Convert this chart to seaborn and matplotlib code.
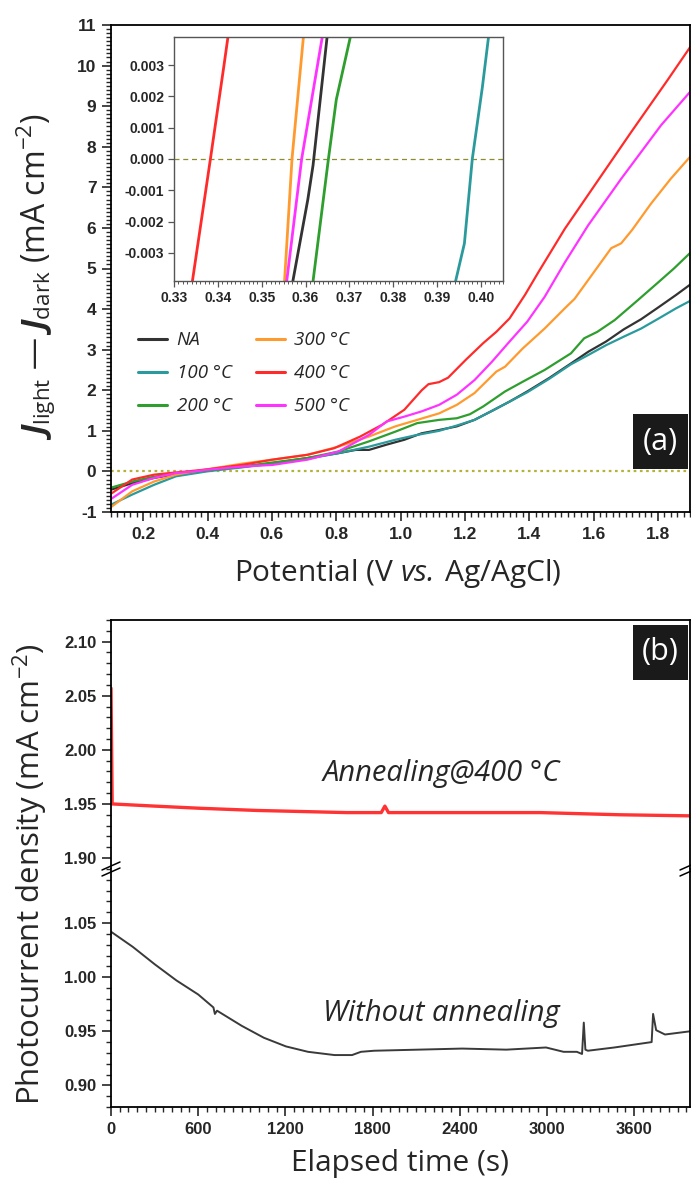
import numpy as np
import pandas as pd
import matplotlib
matplotlib.use("Agg")
import matplotlib.pyplot as plt
import seaborn as sns
from matplotlib.ticker import MultipleLocator, FormatStrFormatter
from matplotlib.patches import Rectangle
from matplotlib.lines import Line2D

# ---------------- (a) photocurrent vs potential ----------------
labels = ["NA", "100 °C", "200 °C", "300 °C", "400 °C", "500 °C"]
colors = ["#333333", "#2a9a9c", "#2e9e2e", "#ff9a2e", "#ff2b2b", "#ff33ff"]

v_na = [0.10, 0.166, 0.234, 0.302, 0.361, 0.398, 0.507, 0.602, 0.711, 0.807, 0.861, 0.902, 0.957,
        1.012, 1.066, 1.12, 1.175, 1.23, 1.284, 1.339, 1.394, 1.462, 1.53, 1.584, 1.639,
        1.694, 1.748, 1.803, 1.857, 1.90]
j_na = [-0.45, -0.29, -0.16, -0.07, 0.0, 0.03, 0.11, 0.20, 0.33, 0.45, 0.53, 0.53, 0.66,
        0.78, 0.94, 1.02, 1.11, 1.27, 1.49, 1.72, 1.97, 2.30, 2.66, 2.95, 3.20,
        3.50, 3.75, 4.05, 4.35, 4.60]

v_100 = [0.10, 0.166, 0.234, 0.302, 0.398, 0.507, 0.602, 0.711, 0.807, 0.902, 0.984, 1.052,
         1.12, 1.175, 1.23, 1.284, 1.339, 1.394, 1.462, 1.53, 1.584, 1.639, 1.694, 1.748,
         1.803, 1.857, 1.90]
j_100 = [-0.82, -0.57, -0.33, -0.12, 0.0, 0.10, 0.19, 0.31, 0.45, 0.61, 0.78, 0.90,
         1.00, 1.13, 1.27, 1.49, 1.72, 1.95, 2.28, 2.64, 2.87, 3.11, 3.32, 3.52,
         3.77, 4.02, 4.20]

v_200 = [0.10, 0.166, 0.234, 0.302, 0.365, 0.398, 0.507, 0.602, 0.711, 0.807, 0.902, 0.984,
         1.052, 1.12, 1.175, 1.216, 1.257, 1.325, 1.38, 1.448, 1.53, 1.571, 1.612, 1.666,
         1.735, 1.80, 1.85, 1.90]
j_200 = [-0.40, -0.25, -0.13, -0.06, 0.0, 0.03, 0.12, 0.22, 0.33, 0.49, 0.74, 0.98,
         1.19, 1.27, 1.31, 1.41, 1.60, 1.97, 2.21, 2.50, 2.91, 3.28, 3.44, 3.73,
         4.20, 4.65, 5.00, 5.38]

v_300 = [0.10, 0.166, 0.234, 0.302, 0.357, 0.398, 0.507, 0.602, 0.711, 0.807, 0.902, 0.984,
         1.052, 1.12, 1.175, 1.23, 1.298, 1.325, 1.38, 1.448, 1.516, 1.541, 1.593, 1.655,
         1.686, 1.72, 1.778, 1.84, 1.90]
j_300 = [-0.88, -0.49, -0.25, -0.08, 0.0, 0.05, 0.19, 0.29, 0.41, 0.61, 0.86, 1.11,
         1.27, 1.43, 1.64, 1.93, 2.46, 2.58, 3.03, 3.52, 4.06, 4.25, 4.82, 5.50,
         5.62, 5.95, 6.59, 7.21, 7.75]

v_400 = [0.10, 0.166, 0.234, 0.302, 0.338, 0.398, 0.507, 0.602, 0.711, 0.793, 0.875, 0.943,
         1.012, 1.066, 1.087, 1.12, 1.148, 1.203, 1.257, 1.298, 1.339, 1.387, 1.428, 1.511,
         1.614, 1.717, 1.83, 1.90]
j_400 = [-0.55, -0.20, -0.08, -0.025, 0.0, 0.05, 0.16, 0.29, 0.41, 0.57, 0.86, 1.15,
         1.52, 2.00, 2.15, 2.20, 2.31, 2.75, 3.16, 3.44, 3.77, 4.35, 4.90, 5.98,
         7.17, 8.36, 9.64, 10.45]

v_500 = [0.10, 0.166, 0.234, 0.302, 0.359, 0.398, 0.507, 0.602, 0.711, 0.807, 0.902, 0.957,
         1.012, 1.066, 1.12, 1.175, 1.23, 1.284, 1.339, 1.394, 1.448, 1.511, 1.583, 1.686,
         1.81, 1.90]
j_500 = [-0.68, -0.33, -0.16, -0.04, 0.0, 0.04, 0.12, 0.16, 0.29, 0.49, 0.90, 1.23,
         1.35, 1.48, 1.64, 1.89, 2.25, 2.70, 3.20, 3.69, 4.30, 5.15, 6.06, 7.21,
         8.53, 9.35]

# zero-crossing detail (inset)
iv_na = [0.3571, 0.3605, 0.3617, 0.3649]
ij_na = [-0.0039, -0.0013, -0.0002, 0.0039]
iv_100 = [0.3942, 0.3962, 0.3980, 0.4003, 0.4017]
ij_100 = [-0.0039, -0.0027, 0.0, 0.0023, 0.0039]
iv_200 = [0.3617, 0.3652, 0.3670, 0.3702]
ij_200 = [-0.0039, 0.0, 0.0019, 0.0039]
iv_300 = [0.3552, 0.3569, 0.3595]
ij_300 = [-0.0039, 0.0, 0.0039]
iv_400 = [0.3342, 0.3383, 0.3414, 0.3423]
ij_400 = [-0.0039, 0.0, 0.0030, 0.0039]
iv_500 = [0.3557, 0.3591, 0.3638]
ij_500 = [-0.0039, 0.0, 0.0039]

# ---------------- (b) chronoamperometry ----------------
t_annealed = [0, 8, 300, 612, 1000, 1623, 1860, 1885, 1910, 2400, 2952, 3500, 3985]
j_annealed = [2.057, 1.950, 1.948, 1.946, 1.944, 1.942, 1.942, 1.948, 1.942, 1.942, 1.942,
              1.940, 1.939]
t_bare = [0, 150, 300, 450, 600, 705, 715, 730, 900, 1052, 1204, 1356, 1538, 1659, 1720,
          1811, 2114, 2417, 2721, 2994, 3115, 3206, 3242, 3254, 3265, 3282, 3464, 3721,
          3731, 3752, 3813, 3988]
j_bare = [1.042, 1.028, 1.012, 0.997, 0.984, 0.972, 0.966, 0.969, 0.955, 0.944, 0.936, 0.931,
          0.928, 0.928, 0.931, 0.932, 0.933, 0.934, 0.933, 0.935, 0.931, 0.931, 0.929, 0.958,
          0.933, 0.932, 0.935, 0.940, 0.966, 0.951, 0.947, 0.950]

main_v = [v_na, v_100, v_200, v_300, v_400, v_500]
main_j = [j_na, j_100, j_200, j_300, j_400, j_500]
ins_v = [iv_na, iv_100, iv_200, iv_300, iv_400, iv_500]
ins_j = [ij_na, ij_100, ij_200, ij_300, ij_400, ij_500]

sns.set_theme(style="ticks")
plt.rcParams["font.family"] = ["Liberation Sans", "DejaVu Sans"]
plt.rcParams["font.weight"] = "bold"
plt.rcParams["axes.unicode_minus"] = False
plt.rcParams["mathtext.fontset"] = "custom"
plt.rcParams["mathtext.rm"] = "Open Sans:normal"
plt.rcParams["mathtext.it"] = "Open Sans:italic:bold"
plt.rcParams["mathtext.sf"] = "Open Sans:italic:normal"
plt.rcParams["mathtext.bf"] = "Open Sans:bold"

W, H = 691, 1182
fig = plt.figure(figsize=(W / 100, H / 100), dpi=100)
fig.patch.set_facecolor("white")


def rect(left, top, right, bottom):
    return [left / W, 1 - bottom / H, (right - left) / W, (bottom - top) / H]


def fx(x):
    return x / W


def fy(y):
    return 1 - y / H


SANS = ["Open Sans", "DejaVu Sans"]
LABEL_FONT = dict(family=SANS, weight="normal")


def style_axes(ax, lw=1.3, tick_size=12.5):
    for s in ax.spines.values():
        s.set_linewidth(lw)
        s.set_color("black")
    ax.tick_params(which="major", direction="out", length=6.5, width=1.2,
                   labelsize=tick_size, top=False, right=False, pad=4)
    ax.tick_params(which="minor", direction="out", length=3.5, width=1.0,
                   top=False, right=False)


# ---------------- panel (a) ----------------
ax_a = fig.add_axes(rect(111, 25, 690, 512))
for v, j, c, lab in zip(main_v, main_j, colors, labels):
    sns.lineplot(x=v, y=j, color=c, lw=1.6, sort=False, estimator=None, ax=ax_a, label=lab)
ax_a.axhline(0, color="#b3b33a", lw=1.6, ls=(0, (1.2, 1.6)), zorder=0)
ax_a.set_xlim(0.1, 1.9)
ax_a.set_ylim(-1, 11)
ax_a.xaxis.set_major_locator(MultipleLocator(0.2))
ax_a.xaxis.set_minor_locator(MultipleLocator(0.02))
ax_a.xaxis.set_major_formatter(FormatStrFormatter("%.1f"))
ax_a.yaxis.set_major_locator(MultipleLocator(1))
ax_a.yaxis.set_minor_locator(MultipleLocator(0.1))
ax_a.yaxis.set_major_formatter(FormatStrFormatter("%d"))
ax_a.set_xlabel("")
ax_a.set_ylabel("")
style_axes(ax_a)

handles = [Line2D([0], [0], color=c, lw=2.2) for c in colors]
leg = ax_a.legend(handles, labels, ncol=2, frameon=False, loc="upper left",
                  bbox_to_anchor=(0.047, 0.3715), borderaxespad=0, borderpad=0,
                  handlelength=1.55, handletextpad=0.5,
                  columnspacing=1.3, labelspacing=0.8,
                  prop=dict(family=SANS, style="italic", weight="normal", size=13.5))

ax_a.add_patch(Rectangle((0.9016, 0.0875), 0.095, 0.1135, transform=ax_a.transAxes,
                         facecolor="#1a1a1a", edgecolor="none", zorder=5))
ax_a.text(0.949, 0.144, "(a)", transform=ax_a.transAxes, ha="center", va="center",
          color="white", fontsize=22, zorder=6, **LABEL_FONT)

# inset
ax_in = fig.add_axes(rect(174, 37, 503, 281))
for v, j, c in zip(ins_v, ins_j, colors):
    sns.lineplot(x=v, y=j, color=c, lw=2.0, sort=False, estimator=None, ax=ax_in,
                 legend=False)
ax_in.axhline(0, color="#8c8c2e", lw=0.9, ls=(0, (4, 3)), zorder=0)
ax_in.set_xlim(0.33, 0.405)
ax_in.set_ylim(-0.0039, 0.0039)
ax_in.xaxis.set_major_locator(MultipleLocator(0.01))
ax_in.xaxis.set_minor_locator(MultipleLocator(0.001))
ax_in.xaxis.set_major_formatter(FormatStrFormatter("%.2f"))
ax_in.yaxis.set_major_locator(MultipleLocator(0.001))
ax_in.yaxis.set_major_formatter(FormatStrFormatter("%.3f"))
ax_in.set_xlabel("")
ax_in.set_ylabel("")
for s in ax_in.spines.values():
    s.set_linewidth(1.0)
    s.set_color("#555555")
ax_in.tick_params(which="major", direction="out", length=4, width=0.9, labelsize=10,
                  top=False, right=False, pad=3, color="#555555")
ax_in.tick_params(which="minor", direction="out", length=2, width=0.7, top=False,
                  right=False, color="#555555")

fig.text(fx(36), fy(277), r"$J_{\mathrm{light}}$ — $J_{\mathrm{dark}}$ (mA cm$^{-2}$)",
         rotation=90, ha="center", va="center", fontsize=23, **LABEL_FONT)
fig.text(fx(398), fy(573), r"Potential (V $\mathsf{vs.}\,$Ag/AgCl)", ha="center",
         va="center", fontsize=21.5, **LABEL_FONT)

# ---------------- panel (b): broken y axis ----------------
ax_hi = fig.add_axes(rect(111, 620, 690, 869))
ax_lo = fig.add_axes(rect(111, 869, 690, 1107))
sns.lineplot(x=t_annealed, y=j_annealed, color="#ff3333", lw=2.4, sort=False,
             estimator=None, ax=ax_hi)
sns.lineplot(x=t_bare, y=j_bare, color="#3a3a3a", lw=1.4, sort=False, estimator=None,
             ax=ax_lo)
for ax in (ax_hi, ax_lo):
    ax.set_xlim(0, 3985)
    ax.yaxis.set_major_locator(MultipleLocator(0.05))
    ax.yaxis.set_minor_locator(MultipleLocator(0.01))
    ax.yaxis.set_major_formatter(FormatStrFormatter("%.2f"))
    ax.set_xlabel("")
    ax.set_ylabel("")
    style_axes(ax, tick_size=12)
ax_hi.set_ylim(2.12 - 249 / 1082, 2.12)
ax_lo.set_ylim(0.88, 0.88 + 238 / 1082)
ax_hi.spines["bottom"].set_visible(False)
ax_lo.spines["top"].set_visible(False)
ax_hi.tick_params(axis="x", which="both", bottom=False, labelbottom=False)
ax_lo.xaxis.set_major_locator(MultipleLocator(600))
ax_lo.xaxis.set_minor_locator(MultipleLocator(60))
ax_lo.xaxis.set_major_formatter(FormatStrFormatter("%d"))

# break marks on both vertical spines
for xc in (111, 689):
    for dy in (0, 6):
        fig.add_artist(Line2D([fx(xc - 9), fx(xc + 9)], [fy(870 + dy), fy(862 + dy)],
                              transform=fig.transFigure, color="black", lw=1.1))

ax_hi.add_patch(Rectangle((0.9016, 0.76), 0.095, 0.22, transform=ax_hi.transAxes,
                          facecolor="#1a1a1a", edgecolor="none", zorder=5))
ax_hi.text(0.949, 0.87, "(b)", transform=ax_hi.transAxes, ha="center", va="center",
           color="white", fontsize=22, zorder=6, **LABEL_FONT)

ax_hi.text(1459, 1.978, "Annealing@400 °C", ha="left", va="center", fontsize=21,
           family=SANS, style="italic", weight="normal")
ax_lo.text(1459, 0.9667, "Without annealing", ha="left", va="center", fontsize=21,
           family=SANS, style="italic", weight="normal")

fig.text(fx(30), fy(874), "Photocurrent density (mA cm$^{-2}$)", rotation=90,
         ha="center", va="center", fontsize=22.5, **LABEL_FONT)
fig.text(fx(400), fy(1163), "Elapsed time (s)", ha="center", va="center", fontsize=21.5,
         **LABEL_FONT)

fig.savefig("out.png", dpi=100, facecolor="white")
